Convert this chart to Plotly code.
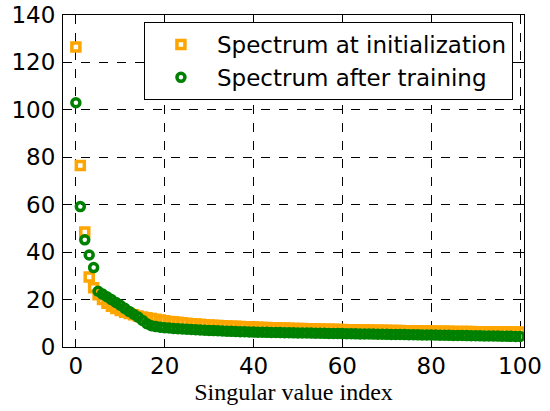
import plotly.graph_objects as go

index = list(range(101))

spectrum_init = [
    126.5, 76.5, 48.5, 29.5, 25.0, 22.0, 20.0, 18.5, 17.2, 16.2,
    15.4, 14.7, 14.1, 13.6, 13.1, 12.7, 12.3, 12.0, 11.7, 11.4,
    11.1, 10.8, 10.6, 10.4, 10.2, 10.0, 9.85, 9.7, 9.55, 9.4,
    9.3, 9.2, 9.1, 9.0, 8.9, 8.8, 8.7, 8.6, 8.5, 8.45,
    8.4, 8.33, 8.26, 8.2, 8.14, 8.08, 8.02, 7.96, 7.9, 7.85,
    7.8, 7.75, 7.7, 7.65, 7.6, 7.56, 7.52, 7.48, 7.44, 7.4,
    7.36, 7.32, 7.28, 7.24, 7.2, 7.17, 7.14, 7.11, 7.08, 7.05,
    7.02, 6.99, 6.96, 6.93, 6.9, 6.87, 6.84, 6.81, 6.78, 6.75,
    6.72, 6.69, 6.66, 6.63, 6.6, 6.58, 6.56, 6.54, 6.52, 6.5,
    6.48, 6.46, 6.44, 6.42, 6.4, 6.38, 6.36, 6.34, 6.32, 6.3, 6.28,
]

spectrum_trained = [
    103.0, 59.2, 45.2, 38.8, 33.5, 23.5, 22.3, 21.2, 20.0, 18.8,
    17.6, 16.3, 15.0, 13.8, 12.6, 11.2, 9.8, 9.0, 8.6, 8.35,
    8.15, 8.0, 7.85, 7.72, 7.6, 7.5, 7.4, 7.3, 7.2, 7.1,
    7.0, 6.92, 6.84, 6.76, 6.68, 6.6, 6.54, 6.48, 6.42, 6.36,
    6.3, 6.26, 6.22, 6.18, 6.14, 6.1, 6.07, 6.04, 6.01, 5.98,
    5.95, 5.92, 5.89, 5.86, 5.83, 5.8, 5.77, 5.74, 5.71, 5.68,
    5.65, 5.62, 5.59, 5.56, 5.53, 5.5, 5.47, 5.44, 5.41, 5.38,
    5.35, 5.32, 5.29, 5.26, 5.23, 5.2, 5.17, 5.14, 5.11, 5.08,
    5.05, 5.02, 4.99, 4.96, 4.93, 4.9, 4.87, 4.84, 4.81, 4.78,
    4.75, 4.72, 4.69, 4.66, 4.63, 4.6, 4.57, 4.54, 4.51, 4.48, 4.45,
]

x_ticks = [0, 20, 40, 60, 80, 100]
y_ticks = [0, 20, 40, 60, 80, 100, 120, 140]

ORANGE = "#FFA500"
GREEN = "#008000"

fig = go.Figure()
fig.add_trace(go.Scatter(
    x=index, y=spectrum_init, mode="markers", name="Spectrum at initialization",
    marker=dict(symbol="square-open", size=8, color=ORANGE,
                line=dict(width=3.5, color=ORANGE)),
))
fig.add_trace(go.Scatter(
    x=index, y=spectrum_trained, mode="markers", name="Spectrum after training",
    marker=dict(symbol="circle-open", size=8, color=GREEN,
                line=dict(width=3.5, color=GREEN)),
))

axis_common = dict(
    showline=True, linecolor="black", linewidth=1, mirror="ticks",
    ticks="inside", ticklen=5, tickcolor="black",
    showgrid=True, gridcolor="black", gridwidth=1, griddash="dash",
    zeroline=False, automargin=False, ticklabeloverflow="allow",
    tickfont=dict(family="DejaVu Sans", size=23, color="black"),
)

fig.update_xaxes(
    range=[-2.9, 100.9], tickvals=x_ticks, ticklabelstandoff=-2,
    title=dict(text="Singular value index",
               font=dict(family="Liberation Serif", size=24, color="black"),
               standoff=0),
    **axis_common,
)
fig.update_yaxes(range=[0, 140], tickvals=y_ticks, ticklabelstandoff=2, **axis_common)

fig.update_layout(
    width=550, height=411,
    margin=dict(l=63, r=26, t=15, b=64),
    paper_bgcolor="white", plot_bgcolor="white",
    showlegend=True,
    legend=dict(
        x=0.976, y=0.979, xanchor="right", yanchor="top",
        bgcolor="white", bordercolor="black", borderwidth=1,
        font=dict(family="DejaVu Sans", size=23, color="black"),
        itemwidth=62,
    ),
)

fig.write_html("out.html", config={"displayModeBar": False},
               post_script="document.body.style.margin='0';")
